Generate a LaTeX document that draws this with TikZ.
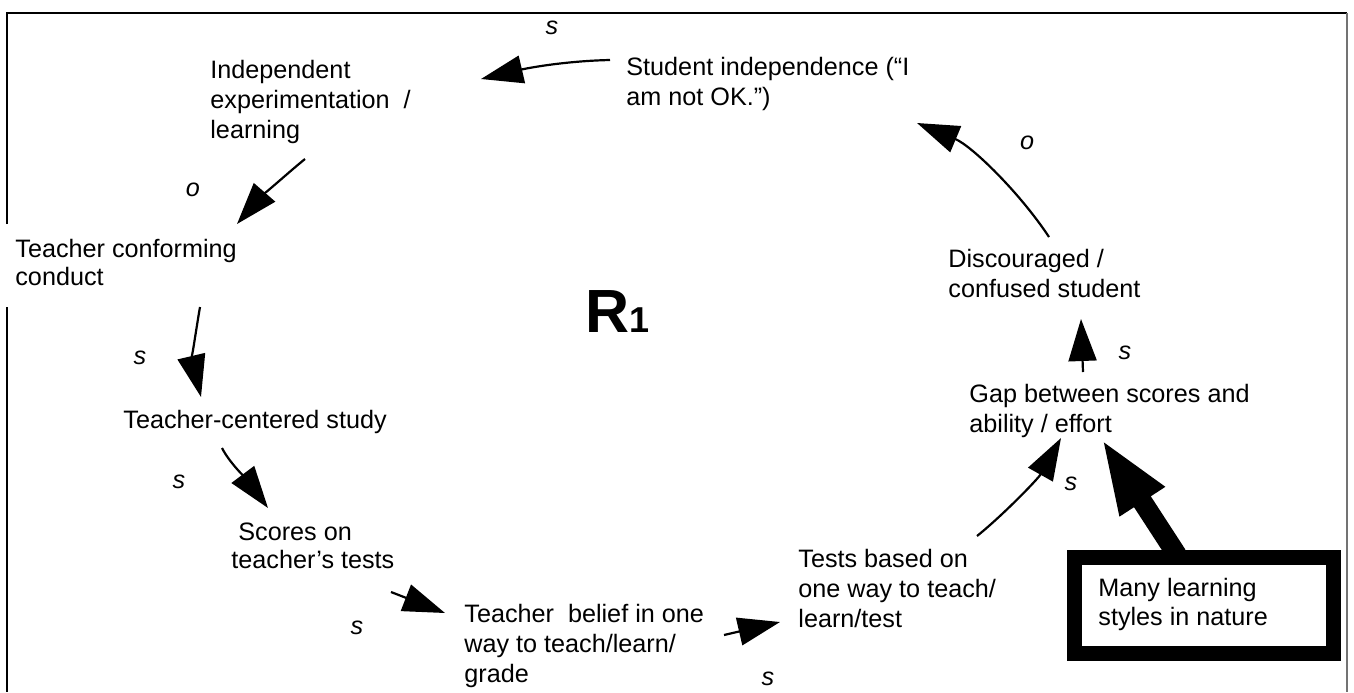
\documentclass[tikz,border=0pt]{standalone}
\usepackage{fontspec}
\setmainfont{Liberation Sans}
\usetikzlibrary{arrows.meta,calc}
% left-aligned multi-line text whose reference point is the first baseline
\newcommand\stack[1]{\begin{tabular}[t]{@{}l@{}}#1\end{tabular}}
\begin{document}
\begin{tikzpicture}[x=0.5pt,y=-0.5pt,
  lbl/.style={font=\fontsize{12.6}{15}\selectfont, anchor=base west, inner sep=0pt},
  pol/.style={font=\fontsize{12.6}{15}\selectfont\itshape, inner sep=0pt},
  link/.style={line width=1.1pt, -{Triangle[length=21pt,width=14pt]}},
  biglink/.style={line width=10pt, -{Triangle[length=38pt,width=24pt]}},
  frameline/.style={line width=1.4pt},
]
\useasboundingbox (0,0) rectangle (1354,692);

% page frame (left side broken around the "Teacher conforming" label)
\draw[frameline] (7,224) -- (7,13) -- (1347,13);
\draw[frameline] (7,307) -- (7,692);
\draw[line width=0.8pt, black!55] (1347,13) -- (1347,692);

% variables of the loop
\node[lbl] (indep) at (210,78) {\stack{Independent\\experimentation\ \ /\\learning}};
\node[lbl] (stud) at (626,75) {\stack{Student independence (“I\\am not OK.”)}};
\node[lbl, font=\fontsize{12.6}{14.25}\selectfont] (conf) at (15,257) {\stack{Teacher conforming\\conduct}};
\node[lbl] (tcs) at (123,428) {Teacher-centered study};
\node[lbl, font=\fontsize{12.6}{14}\selectfont] (scores) at (231,540) {\stack{\ Scores on\\teacher’s tests}};
\node[lbl] (belief) at (464,622) {\stack{Teacher\ \ belief in one\\way to teach/learn/\\grade}};
\node[lbl] (tests) at (798,567) {\stack{Tests based on\\one way to teach/\\learn/test}};
\node[lbl] (gap) at (969,402) {\stack{Gap between scores and\\ability / effort}};
\node[lbl] (disc) at (948,267) {\stack{Discouraged /\\confused student}};
\node[lbl, font=\fontsize{12.6}{14.5}\selectfont] (many) at (1098,596) {\stack{Many learning\\styles in nature}};
\draw[line width=7.5pt] ($(many.base west)+(-23.5,-39)$) rectangle ($(many.base west)+(235.5,57)$);

% loop identifier
\node[anchor=base west, inner sep=0pt, font=\bfseries\fontsize{30.5}{30}\selectfont] (r1) at (585,332)
  {R{\fontsize{18}{18}\selectfont 1}};

% causal links
\draw[link] ($(stud.base west)+(-16,-15)$) .. controls (565,61) and (528,68) .. ($(indep.base west)+(271,1)$);
\draw[link] ($(indep.base west)+(95,81)$) .. controls (290,171) and (257,201) .. ($(conf.base west)+(222,-33)$);
\draw[link] ($(conf.base west)+(185,50)$) .. controls (196,330) and (192,359) .. ($(tcs.base west)+(78,-31)$);
\draw[link] ($(tcs.base west)+(99,20)$) .. controls (229,462) and (247,480) .. ($(scores.base west)+(37,-32)$);
\draw[link] ($(scores.base west)+(160,52)$) -- ($(belief.base west)+(-19,-9)$);
\draw[link] ($(belief.base west)+(260,13)$) -- ($(tests.base west)+(-18,55)$);
\draw[link] ($(tests.base west)+(179,-31)$) .. controls (1002,516) and (1038,479) .. ($(gap.base west)+(92,36)$);
\draw[biglink] ($(many.base west)+(79,-41)$) -- ($(gap.base west)+(132,36)$);
\draw[link] ($(gap.base west)+(114,-30)$) -- ($(disc.base west)+(133,52)$);
\draw[link] ($(disc.base west)+(101,-30)$) .. controls (1020,193) and (972,146) .. ($(stud.base west)+(291,48)$);

% link polarities
\node[pol] (p1) at (552,28) {s};
\node[pol] (p2) at (193,190) {o};
\node[pol] (p3) at (140,358) {s};
\node[pol] (p4) at (179,482) {s};
\node[pol] (p5) at (357,628) {s};
\node[pol] (p6) at (768,679) {s};
\node[pol] (p7) at (1071,484) {s};
\node[pol] (p8) at (1125,353) {s};
\node[pol] (p9) at (1027,143) {o};
\end{tikzpicture}
\end{document}
